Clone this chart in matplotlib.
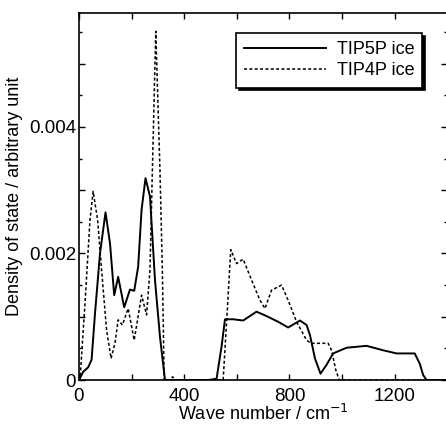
import matplotlib.pyplot as plt
from matplotlib.ticker import MultipleLocator, FuncFormatter

plt.rcParams['font.family'] = ['Liberation Sans', 'DejaVu Sans']

# TIP5P ice (solid)
tip5p_x = [0, 4, 16, 35, 48, 61, 80, 101, 118, 134, 149, 172, 194, 210, 225, 238,
           253, 270, 289, 308, 327, 360, 400, 450, 491, 523, 542, 555, 586, 624,
           675, 713, 757, 795, 840, 865, 878, 897, 918, 941, 966, 1017, 1093,
           1156, 1207, 1276, 1295, 1308, 1321, 1400]
tip5p_y = [0, 0.00003, 0.00013, 0.0002, 0.00032, 0.00105, 0.0020, 0.00265, 0.00216,
           0.00134, 0.00163, 0.00115, 0.00143, 0.00141, 0.00179, 0.00269,
           0.00319, 0.0029, 0.00158, 0.00068, 0, 0, 0, 0, 0, 0.00002, 0.00053,
           0.00096, 0.00096, 0.00094, 0.00108, 0.00101, 0.00092, 0.00083,
           0.00094, 0.00087, 0.00071, 0.00034, 0.0001, 0.00024, 0.00042,
           0.00051, 0.00054, 0.00047, 0.00042, 0.00042, 0.00026, 0.00008, 0, 0]

# TIP4P ice (dashed)
tip4p_x = [0, 4, 23, 42, 54, 71, 86, 105, 122, 137, 149, 165, 187, 210, 238, 257,
           270, 279, 292, 308, 317, 324, 345, 356, 367, 400, 500, 548, 563, 577,
           599, 624, 656, 688, 707, 732, 770, 795, 827, 865, 882, 897, 947, 960,
           976, 989, 1400]
tip4p_y = [0, 0, 0.00121, 0.00253, 0.00298, 0.00253, 0.00174, 0.00079, 0.00034,
           0.00058, 0.00095, 0.00087, 0.00113, 0.00063, 0.00134, 0.00103,
           0.00174, 0.0033, 0.00551, 0.0033, 0.00174, 0, 0, 0.00005, 0, 0, 0, 0,
           0.00105, 0.00206, 0.00184, 0.00191, 0.00158, 0.00126, 0.00113,
           0.00142, 0.0015, 0.00126, 0.00092, 0.00063, 0.00058, 0.00058,
           0.00058, 0.00047, 0.00016, 0, 0]

fig = plt.figure(figsize=(4.46, 4.34), dpi=100)
ax = fig.add_axes([0.177, 0.1244, 0.826, 0.8456])

ax.plot(tip5p_x, tip5p_y, color='black', lw=1.4, label='TIP5P ice')
ax.plot(tip4p_x, tip4p_y, color='black', lw=1.1, ls=(0, (2, 1.5)), label='TIP4P ice')

ax.set_xlim(0, 1400)
ax.set_ylim(0, 0.0058)

ax.xaxis.set_major_locator(MultipleLocator(200))
ax.yaxis.set_major_locator(MultipleLocator(0.001))
ax.yaxis.set_minor_locator(MultipleLocator(0.0005))
ax.xaxis.set_major_formatter(FuncFormatter(lambda v, p: f'{v:.0f}' if round(v) % 400 == 0 else ''))


def yfmt(v, p):
    if abs(v) < 1e-9:
        return '0'
    k = round(v / 0.001)
    return f'{v:.3f}' if k % 2 == 0 else ''


ax.yaxis.set_major_formatter(FuncFormatter(yfmt))
ax.tick_params(which='both', direction='in', top=True, right=True, labelsize=13.5)
ax.tick_params(which='major', length=4, width=1)
ax.tick_params(axis='x', which='major', pad=6)
ax.tick_params(axis='y', which='major', pad=2)
ax.tick_params(which='minor', length=2.5, width=1)
for s in ax.spines.values():
    s.set_linewidth(1.2)

ax.set_xlabel('Wave number / cm$^{-1}$', fontsize=13, labelpad=-1)
ax.set_ylabel('Density of state / arbitrary unit', fontsize=13)

leg = ax.legend(loc='upper right', bbox_to_anchor=(0.932, 0.946), fontsize=13,
                borderaxespad=0, handlelength=4.5, handletextpad=0.6, borderpad=0.45,
                labelspacing=0.25, fancybox=False, edgecolor='black',
                framealpha=1, shadow={'color': 'black', 'alpha': 1})
leg.get_frame().set_linewidth(1.2)

fig.savefig('out.png', dpi=100)
